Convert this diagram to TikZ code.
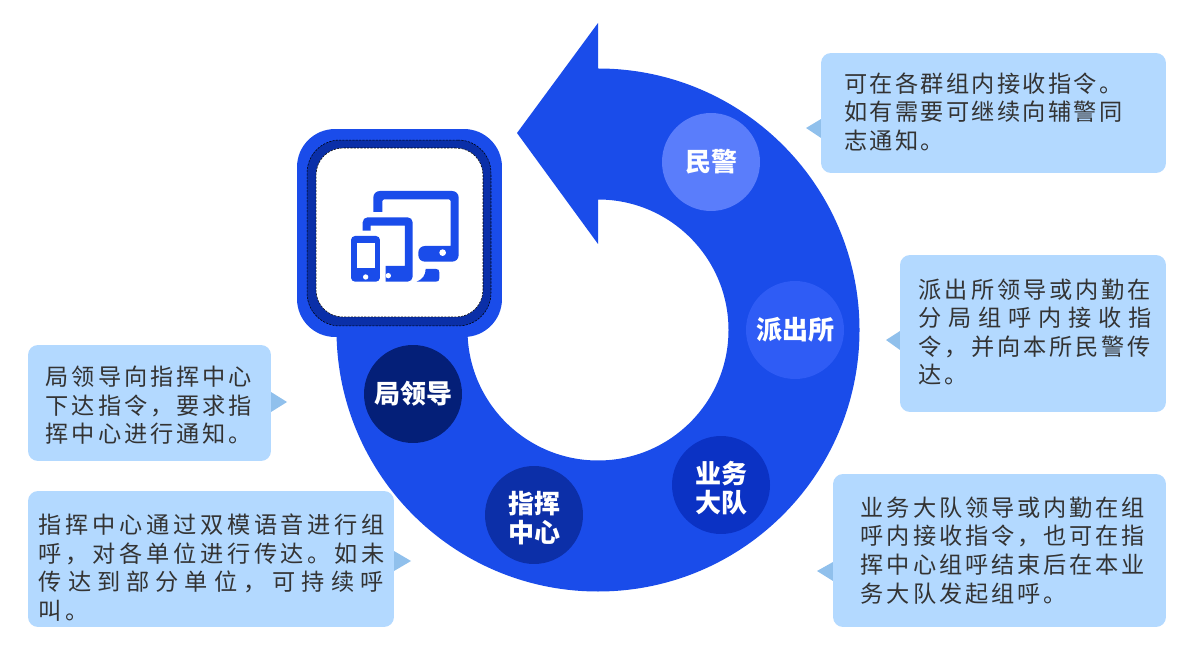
\documentclass[tikz,border=0pt]{standalone}
\usepackage{fontspec}
\setmainfont{Noto Sans CJK SC}
\definecolor{ringblue}{HTML}{1A4CEA}
\definecolor{bandblue}{HTML}{0A2FA8}
\definecolor{bubbleblue}{HTML}{B3D9FF}
\definecolor{tipblue}{HTML}{90C0EC}
\definecolor{inkgrey}{HTML}{333333}
\definecolor{roleone}{HTML}{5A7DFB}
\definecolor{roletwo}{HTML}{2F5CF5}
\definecolor{rolethree}{HTML}{0B32C4}
\definecolor{rolefour}{HTML}{0C2FA8}
\definecolor{rolefive}{HTML}{041F78}
\newcommand{\spaced}[2]{{\addfontfeature{LetterSpace=#1}#2}}
\tikzset{
  role/.style={circle,fill=#1,minimum size=1.96cm,inner sep=0pt,text=white,align=center,
    font=\fontsize{14.8}{16.5}\selectfont\bfseries},
  tworows/.style={text height=33pt},
  bubble/.style={rectangle,rounded corners=0.2cm,fill=bubbleblue,inner sep=0pt},
  saying/.style={anchor=west,inner sep=0pt,align=left,text=inkgrey,
    font=\fontsize{13.2}{16.3}\selectfont},
  bubbletip/.style={fill=tipblue},
  framebox/.style={rectangle,inner sep=0pt}
}
\begin{document}
\begin{tikzpicture}[x=0.02cm,y=-0.02cm]
        \useasboundingbox (0,0) rectangle (1200,658);
        % ring and arrow
        \fill[ringblue] (598,68.5) arc[start angle=-90,end angle=180,radius=261.5]
          -- (467.5,330) arc[start angle=180,end angle=-90,radius=130.5]
          -- (598,244) -- (517,133) -- (598,23) -- cycle;
        % device frame
        \node [framebox,fill=ringblue,rounded corners=0.76cm,minimum width=4.1cm,minimum height=4.16cm] (frame) at (399.5,233) {};
        \node [framebox,fill=bandblue,draw=black,line width=0.3pt,dash pattern=on 1.2pt off 0.7pt,rounded corners=0.66cm,minimum width=3.68cm,minimum height=3.72cm] (band) at (399,233) {};
        \node [framebox,fill=white,draw=black,line width=0.3pt,dash pattern=on 1.2pt off 0.7pt,rounded corners=0.54cm,minimum width=3.34cm,minimum height=3.38cm] (face) at (399.5,232.5) {};
        % devices
        \begin{scope}[shift={(280,110)},x=0.00667cm,y=-0.00667cm]
          \fill[ringblue,rounded corners=0.13cm] (280,306) -- (280,243) -- (536,243) -- (536,455) -- (415,455) -- (415,408) [sharp corners] -- (512,408) [rounded corners=0.04cm] -- (512,268) -- (307,268) [sharp corners] -- (307,306) -- cycle;
          \fill[white] (488,428) circle (10);
          \fill[ringblue] (437,477) -- (468,477) .. controls (475,477) and (478,480) .. (478,487) -- (478,505) .. controls (478,512) and (475,515) .. (468,515) -- (410,515) .. controls (428,508) and (437,495) .. (437,477) -- cycle;
          \fill[ringblue,rounded corners=0.1cm] (248,362) -- (248,322) -- (398,322) -- (398,515) [sharp corners] -- (317,515) -- (317,468) -- (375,468) -- (375,347) -- (272,347) -- (272,362) -- cycle;
          \fill[white] (325,497) circle (8);
          \fill[ringblue,rounded corners=0.08cm] (213,378) rectangle (300,515);
          \fill[white] (231,400) rectangle (284,474);
          \fill[white] (257,501) circle (8);
        \end{scope}
        % roles
        \node [role=roleone] (minjing) at (711,162) {民警};
        \node [role=roletwo] (paichusuo) at (795,330) {派出所};
        \node [role=rolethree,tworows] (dadui) at (721,485) {业务\\大队};
        \node [role=rolefour,tworows] (zhihui) at (534,515) {指挥\\中心};
        \node [role=rolefive] (juling) at (413,394) {局领导};
        % bubbles
        \fill[bubbletip] (821,119) -- (806,128) -- (821,138) -- cycle;
        \fill[bubbletip] (900,331) -- (886,340) -- (900,350) -- cycle;
        \fill[bubbletip] (833,562) -- (817,571) -- (833,581) -- cycle;
        \fill[bubbletip] (271,392) -- (287,402) -- (271,412) -- cycle;
        \fill[bubbletip] (394,551) -- (411,561) -- (394,571) -- cycle;
        \node [bubble,minimum width=6.9cm,minimum height=2.4cm] (bubble1) at (993.5,113) {};
        \node [bubble,minimum width=5.32cm,minimum height=3.14cm] (bubble2) at (1033,333.5) {};
        \node [bubble,minimum width=6.66cm,minimum height=3.06cm] (bubble3) at (999.5,550.5) {};
        \node [bubble,minimum width=4.86cm,minimum height=2.32cm] (bubble4) at (149.5,403) {};
        \node [bubble,minimum width=7.32cm,minimum height=2.72cm] (bubble5) at (211,559) {};
        % texts
        \node [saying] (saying1) at (844,112) {\spaced{10}{可在各群组内接收指令。}\\\spaced{10}{如有需要可继续向辅警同}\\\spaced{10}{志通知。}};
        \node [saying] (saying2) at (918.5,332) {\spaced{12.5}{派出所领导或内勤在}\\\spaced{29}{分局组呼内接收指}\\\spaced{12.5}{令，并向本所民警传}\\\spaced{12.5}{达。}};
        \node [saying] (saying3) at (860.5,550.5) {\spaced{12.5}{业务大队领导或内勤在组}\\\spaced{12.5}{呼内接收指令，也可在指}\\\spaced{12.5}{挥中心组呼结束后在本业}\\\spaced{12.5}{务大队发起组呼。}};
        \node [saying] (saying4) at (45.5,405.5) {\spaced{12.5}{局领导向指挥中心}\\\spaced{12.5}{下达指令，要求指}\\\spaced{12.5}{挥中心进行通知。}};
        \node [saying] (saying5) at (38.5,567.5) {\spaced{16}{指挥中心通过双模语音进行组}\\\spaced{16}{呼，对各单位进行传达。如未}\\\spaced{26}{传达到部分单位，可持续呼}\\\spaced{16}{叫。}};
      \end{tikzpicture}
\end{document}
